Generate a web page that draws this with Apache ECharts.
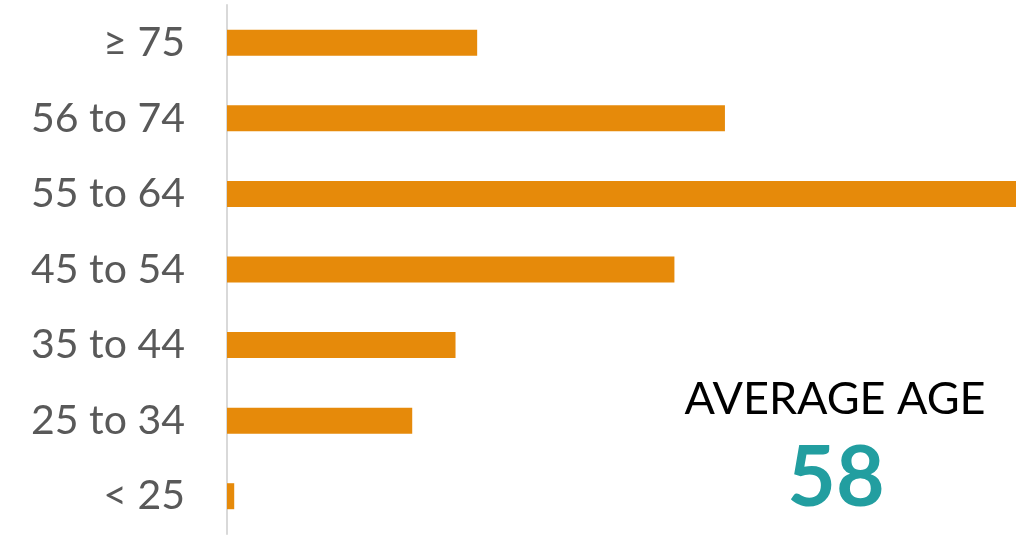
<!DOCTYPE html>
<html><head><meta charset="utf-8">
<script src="https://cdn.jsdelivr.net/npm/echarts@6/dist/echarts.min.js"></script>
<style>html,body{margin:0;padding:0;background:#fff}#c{width:1025px;height:540px}</style>
</head><body><div id="c"></div>
<script>
const categories = ['< 25', '25 to 34', '35 to 44', '45 to 54', '55 to 64', '56 to 74', '≥ 75'];
const shares = [0.3, 7.7, 9.5, 18.6, 32.8, 20.7, 10.4];
const avgLabel = 'AVERAGE AGE';
const avgValue = '58';

const chart = echarts.init(document.getElementById('c'));
chart.setOption({
  animation: false,
  grid: {left: 227, right: 9, top: 5, bottom: 6},
  xAxis: {type: 'value', min: 0, max: 32.8, show: false},
  yAxis: {
    type: 'category', data: categories,
    axisLine: {show: true, lineStyle: {color: '#d9d9d9', width: 2}},
    axisTick: {show: false},
    axisLabel: {color: '#595959', fontSize: 41, fontFamily: 'Lato', margin: 42}
  },
  series: [{
    type: 'bar', data: shares, barWidth: 26,
    itemStyle: {color: '#E68A0A'}
  }],
  graphic: [
    {type: 'text', x: 835, y: 399, style: {text: avgLabel, fill: '#000', font: '45px Lato', align: 'center', verticalAlign: 'middle'}},
    {type: 'text', x: 836, y: 479, style: {text: avgValue, fill: '#229EA0', font: 'bold 84px Lato', align: 'center', verticalAlign: 'middle'}}
  ]
});
</script></body></html>
